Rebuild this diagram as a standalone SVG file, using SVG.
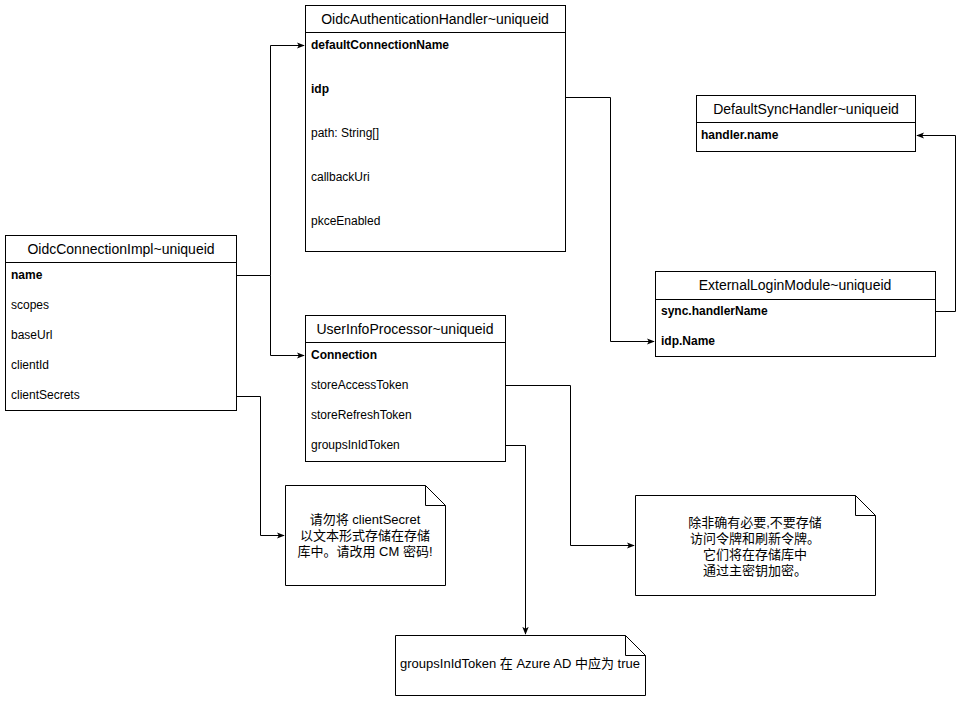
<svg xmlns="http://www.w3.org/2000/svg" width="970" height="702" viewBox="0 0 970 702">
<defs>
<marker id="arr" viewBox="0 0 10 10" refX="9" refY="5" markerWidth="8" markerHeight="8" markerUnits="userSpaceOnUse" orient="auto">
<path d="M0,1 L10,5 L0,9 L2.5,5 Z" fill="#000"/>
</marker>
<style>
.box{fill:#fff;stroke:#000;stroke-width:1}
.hd{font-family:"Liberation Sans",Arial,sans-serif;font-size:14px;text-anchor:middle;fill:#000}
.it{font-family:"Liberation Sans",Arial,sans-serif;font-size:12px;fill:#000}
.b{font-weight:bold}
.note{font-family:"Liberation Sans","Noto Sans CJK SC",sans-serif;font-size:13px;text-anchor:middle;fill:#000}
.edge{fill:none;stroke:#000;stroke-width:1}
</style>
</defs>
<rect width="970" height="702" fill="#fff"/>

<g id="OidcConnectionImpl">
<rect class="box" x="5.5" y="235.5" width="231" height="175"/>
<line class="box" x1="5.5" y1="262.5" x2="236.5" y2="262.5"/>
<text class="hd" x="121" y="254">OidcConnectionImpl~uniqueid</text>
<text class="it b" x="11" y="279">name</text>
<text class="it" x="11" y="309">scopes</text>
<text class="it" x="11" y="339">baseUrl</text>
<text class="it" x="11" y="369">clientId</text>
<text class="it" x="11" y="399">clientSecrets</text>
</g>

<g id="OidcAuthenticationHandler">
<rect class="box" x="305.5" y="5.5" width="260" height="246"/>
<line class="box" x1="305.5" y1="32.5" x2="565.5" y2="32.5"/>
<text class="hd" x="435" y="24">OidcAuthenticationHandler~uniqueid</text>
<text class="it b" x="311" y="49">defaultConnectionName</text>
<text class="it b" x="311" y="93">idp</text>
<text class="it" x="311" y="137">path: String[]</text>
<text class="it" x="311" y="181">callbackUri</text>
<text class="it" x="311" y="225">pkceEnabled</text>
</g>

<g id="UserInfoProcessor">
<rect class="box" x="305.5" y="315.5" width="200" height="146"/>
<line class="box" x1="305.5" y1="342.5" x2="505.5" y2="342.5"/>
<text class="hd" x="405" y="334">UserInfoProcessor~uniqueid</text>
<text class="it b" x="311" y="359">Connection</text>
<text class="it" x="311" y="389">storeAccessToken</text>
<text class="it" x="311" y="419">storeRefreshToken</text>
<text class="it" x="311" y="449">groupsInIdToken</text>
</g>

<g id="DefaultSyncHandler">
<rect class="box" x="696.5" y="95.5" width="219" height="56"/>
<line class="box" x1="696.5" y1="122.5" x2="915.5" y2="122.5"/>
<text class="hd" x="806" y="114">DefaultSyncHandler~uniqueid</text>
<text class="it b" x="701" y="139">handler.name</text>
</g>

<g id="ExternalLoginModule">
<rect class="box" x="655.5" y="271.5" width="280" height="85"/>
<line class="box" x1="655.5" y1="299.5" x2="935.5" y2="299.5"/>
<text class="hd" x="795" y="290">ExternalLoginModule~uniqueid</text>
<text class="it b" x="661" y="315">sync.handlerName</text>
<text class="it b" x="661" y="345">idp.Name</text>
</g>

<g id="note1">
<path class="box" d="M285.5,485.5 H425.5 L445.5,505.5 V585.5 H285.5 Z"/>
<path class="edge" d="M425.5,485.5 V505.5 H445.5"/>
<text class="note" x="365" y="524"><tspan x="365" y="524">请勿将 clientSecret</tspan><tspan x="365" y="540">以文本形式存储在存储</tspan><tspan x="365" y="556">库中。请改用 CM 密码!</tspan></text>
</g>

<g id="note2">
<path class="box" d="M635.5,495.5 H855.5 L875.5,515.5 V595.5 H635.5 Z"/>
<path class="edge" d="M855.5,495.5 V515.5 H875.5"/>
<text class="note" x="755" y="527"><tspan x="755" y="527">除非确有必要,不要存储</tspan><tspan x="755" y="543">访问令牌和刷新令牌。</tspan><tspan x="755" y="559">它们将在存储库中</tspan><tspan x="755" y="575">通过主密钥加密。</tspan></text>
</g>

<g id="note3">
<path class="box" d="M395.5,635.5 H625.5 L645.5,655.5 V695.5 H395.5 Z"/>
<path class="edge" d="M625.5,635.5 V655.5 H645.5"/>
<text class="note" x="520" y="668">groupsInIdToken 在 Azure AD 中应为 true</text>
</g>

<g id="connectors">
<path class="edge" d="M236.5,275.5 H270.5 V45.5 H304" marker-end="url(#arr)"/>
<path class="edge" d="M270.5,275.5 V355.5 H304" marker-end="url(#arr)"/>
<path class="edge" d="M565.5,97.5 H610.5 V341.5 H654" marker-end="url(#arr)"/>
<path class="edge" d="M935.5,311.5 H955.5 V135.5 H917" marker-end="url(#arr)"/>
<path class="edge" d="M236.5,396.5 H260.5 V535.5 H284" marker-end="url(#arr)"/>
<path class="edge" d="M505.5,385.5 H570.5 V545.5 H634" marker-end="url(#arr)"/>
<path class="edge" d="M505.5,445.5 H525.5 V634" marker-end="url(#arr)"/>
</g>
</svg>
